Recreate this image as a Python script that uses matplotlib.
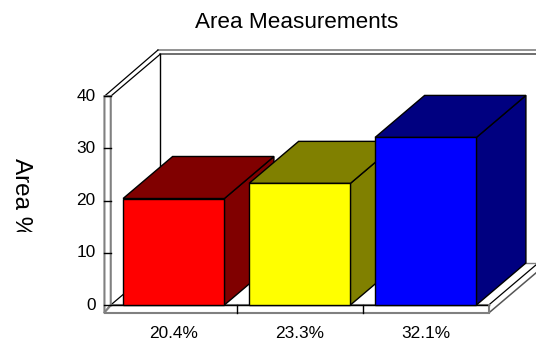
#!/usr/bin/env python
import matplotlib
matplotlib.use("Agg")
import matplotlib.pyplot as plt
from matplotlib.patches import Polygon
from matplotlib.transforms import Bbox

plt.rcParams['font.family'] = ['Liberation Sans', 'DejaVu Sans']

title = "Area Measurements"
ylabel = "Area %"
labels = ["20.4%", "23.3%", "32.1%"]
values = [20.4, 23.3, 32.1]
front_colors = ["#ff0000", "#ffff00", "#0000ff"]
dark_colors = ["#800000", "#808000", "#000080"]
yticks = [0, 10, 20, 30, 40]

W, H = 536, 342
# depth of the fake 3d box, in data units
DX, DY = 0.393, 8.05
HALF = 0.402
WALL = 0.05
FLOOR = 1.53
TOP = 0.8
GRAY = "#808080"

fig = plt.figure(figsize=(W / 100, H / 100), dpi=100)
ax = fig.add_axes([0, 0, 1, 1])
ax.set_xlim((0 - 173.75) / 126.0, (W - 173.75) / 126.0)
ax.set_ylim((305 - H) / 5.22, 305 / 5.22)
ax.axis("off")


def poly(pts, fc="white", ec="black", lw=1.0, z=1):
    ax.add_patch(Polygon(pts, closed=True, facecolor=fc, edgecolor=ec, linewidth=lw, zorder=z, joinstyle="miter", clip_on=True))


left, right = -0.5, 2.5
far = 6.0  # runs past the right edge of the picture
outer_x = left + DX - 0.018

# back wall and top rail
ax.plot([left + DX, far], [40 + DY, 40 + DY], color="#555555", lw=1.2, zorder=1)
ax.plot([outer_x, far], [40 + DY + TOP, 40 + DY + TOP], color=GRAY, lw=1.2, zorder=1)
ax.plot([left, left + DX], [40, 40 + DY], color="black", lw=0.9, zorder=1)
ax.plot([left - WALL, outer_x], [40, 40 + DY + TOP], color="black", lw=0.9, zorder=1)
ax.plot([left + DX, left + DX], [0 + DY, 40 + DY], color="black", lw=1.0, zorder=1)

# floor
ax.plot([left, left + DX], [0, DY], color="black", lw=0.9, zorder=1)
ax.plot([left + DX, far], [DY, DY], color=GRAY, lw=1.0, zorder=1)
ax.plot([right, right + 2 * DX], [0, 2 * DY], color="black", lw=0.9, zorder=1)
ax.plot([right, right + 2 * DX], [-FLOOR, 2 * DY - FLOOR], color="#555555", lw=1.1, zorder=1)

# left wall strip and front floor strip
poly([(left - WALL, 40), (left, 40), (left, 0), (left - WALL, -FLOOR)], ec=GRAY, lw=1.5, z=2)
poly([(left - WALL, -FLOOR), (right, -FLOOR), (right, 0), (left, 0)], ec=GRAY, lw=1.5, z=2)
ax.plot([left, right], [0, 0], color="black", lw=1.0, zorder=3)
ax.plot([right, right], [0, -FLOOR], color=GRAY, lw=1.2, zorder=3)

for t in yticks:
    ax.plot([left - WALL, left], [t, t], color="black", lw=1.0, zorder=3)
    ax.text(left - WALL - 0.07, t, str(t), ha="right", va="center", fontsize=12.4, color="black")

for i in range(len(labels) - 1):
    ax.plot([i + 0.5, i + 0.5], [0, -FLOOR], color="black", lw=1.0, zorder=3)

# bars, left to right so each one hides the side of the previous
for i, v in enumerate(values):
    z = 4 + i
    x0, x1 = i - HALF, i + HALF
    poly([(x1, 0), (x1 + DX, DY), (x1 + DX, v + DY), (x1, v)], fc=dark_colors[i], z=z)
    poly([(x0, v), (x1, v), (x1 + DX, v + DY), (x0 + DX, v + DY)], fc=dark_colors[i], z=z)
    poly([(x0, 0), (x1, 0), (x1, v), (x0, v)], fc=front_colors[i], z=z)
    ax.text(i, -5.4, labels[i], ha="center", va="center", fontsize=12.4, color="black")

fig.text(297 / W, 1 - 22 / H, title, ha="center", va="center", fontsize=16.2, color="black")

# the label is cut off at the bottom in the picture
yl = fig.text(21 / W, 1 - 158 / H, ylabel, rotation=270, ha="center", va="top", fontsize=17.5, color="black")
yl.set_clip_box(Bbox([[0, H - 232], [60, H]]))
yl.set_clip_on(True)

fig.savefig("out.png", dpi=100)
